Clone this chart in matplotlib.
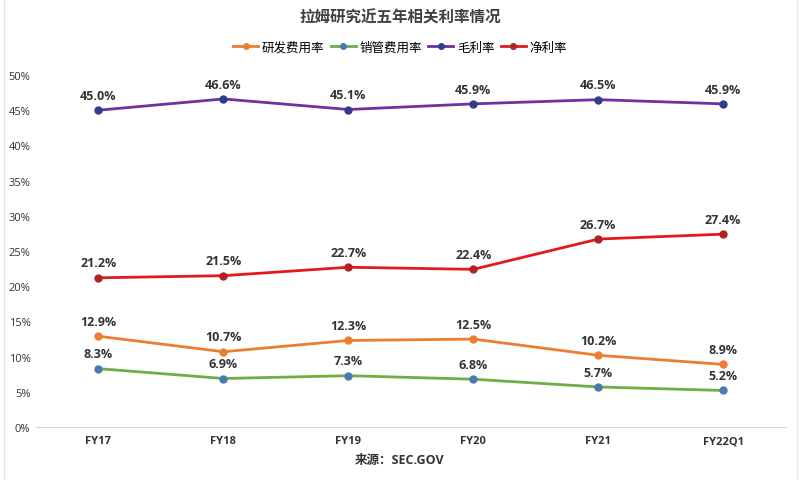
import matplotlib.pyplot as plt
from matplotlib.ticker import FuncFormatter
from matplotlib.lines import Line2D

plt.rcParams['font.family'] = ['Open Sans', 'Noto Sans CJK SC', 'DejaVu Sans']

years = ["FY17", "FY18", "FY19", "FY20", "FY21", "FY22Q1"]
rd = [12.9, 10.7, 12.3, 12.5, 10.2, 8.9]
sga = [8.3, 6.9, 7.3, 6.8, 5.7, 5.2]
gross = [45.0, 46.6, 45.1, 45.9, 46.5, 45.9]
net = [21.2, 21.5, 22.7, 22.4, 26.7, 27.4]

series = [
    ("研发费用率", rd, "#ed7d31", "#ed7d31"),
    ("销管费用率", sga, "#70ad47", "#4a7ab0"),
    ("毛利率", gross, "#7030a0", "#2f3d8f"),
    ("净利率", net, "#e31a1c", "#b22222"),
]

fig = plt.figure(figsize=(8, 4.81), dpi=100)
ax = fig.add_axes([0.045, 0.11, 0.937, 0.732])
x = list(range(len(years)))

for name, vals, lc, mc in series:
    ax.plot(x, vals, color=lc, lw=2, marker="o", ms=5,
            markerfacecolor=mc, markeredgecolor=mc, label=name)
    for xi, v in zip(x, vals):
        ax.annotate(f"{v:.1f}%", (xi, v), xytext=(0, 6), textcoords="offset points",
                    ha="center", va="bottom", fontsize=9, fontweight="bold",
                    color="#333333")

ax.set_xlim(-0.5, len(years) - 0.5)
ax.set_ylim(0, 50)
ax.set_yticks(range(0, 51, 5))
ax.yaxis.set_major_formatter(FuncFormatter(lambda v, p: f"{v:.0f}%"))
ax.set_xticks(x)
ax.set_xticklabels(years, fontweight="bold")
ax.tick_params(axis="both", length=0, labelsize=8, colors="#333333")
ax.tick_params(axis="x", pad=6)
ax.tick_params(axis="y", pad=4)
for s in ["top", "right", "left"]:
    ax.spines[s].set_visible(False)
ax.spines["bottom"].set_color("#d9d9d9")

# thin frame lines at the picture edges
fig.add_artist(Line2D([0.005, 0.005], [0, 1], color="#e6e6e6", lw=1))
fig.add_artist(Line2D([0.996, 0.996], [0, 1], color="#e6e6e6", lw=1))

fig.text(0.5, 0.962, "拉姆研究近五年相关利率情况", ha="center", va="center",
         fontsize=11.2, fontweight="bold", color="#404040")
fig.legend(loc="center", bbox_to_anchor=(0.5, 0.9), ncol=4, frameon=False,
           fontsize=9, handlelength=2.0, handletextpad=0.3, columnspacing=0.5,
           markerscale=0.8)
fig.text(0.5, 0.043, "来源：SEC.GOV", ha="center", va="center",
         fontsize=9, fontweight="bold", color="#333333")

fig.savefig("out.png", dpi=100)
